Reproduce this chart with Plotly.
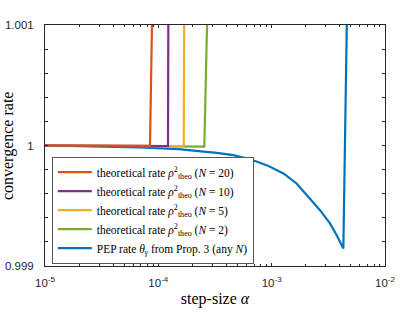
import plotly.graph_objects as go

# ---- data ----
alpha_pep = [1e-5, 3.05e-5, 6.89e-5, 1.5e-4, 2.33e-4, 3.27e-4, 4.59e-4, 6.44e-4,
             9.04e-4, 1.27e-3, 1.66e-3, 2.18e-3, 2.67e-3, 3.27e-3, 3.75e-3, 4.29e-3, 4.6e-3]
rate_pep = [1.0, 0.999994, 0.999984, 0.99997, 0.999953, 0.999939, 0.99992, 0.999886,
            0.999837, 0.999768, 0.999685, 0.99956, 0.999463, 0.999353, 0.999256, 0.999145, 1.001]

alpha_n20 = [1e-5, 8.44e-5, 8.79e-5]
rate_n20 = [1.0, 0.999998, 1.001]
alpha_n10 = [1e-5, 1.217e-4, 1.225e-4]
rate_n10 = [1.0, 0.999996, 1.001]
alpha_n5 = [1e-5, 1.675e-4, 1.69e-4]
rate_n5 = [1.0, 0.999994, 1.001]
alpha_n2 = [1e-5, 2.545e-4, 2.69e-4]
rate_n2 = [1.0, 0.99999, 1.001]

x_tickvals = [1e-5, 1e-4, 1e-3, 1e-2]
x_ticktext = ["10<sup>-5</sup>", "10<sup>-4</sup>", "10<sup>-3</sup>", "10<sup>-2</sup>"]
y_tickvals = [0.999, 1.0, 1.001]
y_ticktext = ["0.999", "1", "1.001"]
x_minor = [k * 10 ** e for e in (-5, -4, -3) for k in range(2, 10)]

theo = "theoretical rate <i>ρ</i><sup>2</sup><sub>theo</sub>"
series = [
    # (x, y, name, color, legendrank)
    (alpha_pep, rate_pep, "PEP rate <i>θ</i><sub><i>γ</i></sub> from Prop. 3 (any <i>N</i>)", "#0072BD", 5),
    (alpha_n2, rate_n2, theo + " (<i>N</i> = 2)", "#77AC30", 4),
    (alpha_n5, rate_n5, theo + " (<i>N</i> = 5)", "#EDB120", 3),
    (alpha_n10, rate_n10, theo + " (<i>N</i> = 10)", "#7E2F8E", 2),
    (alpha_n20, rate_n20, theo + " (<i>N</i> = 20)", "#D95319", 1),
]

SERIF = "Liberation Serif, Times New Roman, serif"
fig = go.Figure()
for xs, ys, name, color, rank in series:
    fig.add_trace(go.Scatter(x=xs, y=ys, mode="lines", name=name,
                             line=dict(color=color, width=2.2), legendrank=rank))

axis_color = "#262626"
fig.update_layout(
    width=415, height=312,
    margin=dict(l=45, r=30, t=25, b=46),
    paper_bgcolor="white", plot_bgcolor="white",
    font=dict(family="Liberation Sans, Arial, sans-serif", size=11, color=axis_color),
    showlegend=True,
    legend=dict(
        x=0.02, y=0.01, xanchor="left", yanchor="bottom",
        bgcolor="white", bordercolor="#555555", borderwidth=1,
        font=dict(family=SERIF, size=11.5, color="black"),
        itemwidth=34, tracegroupgap=0,
    ),
    annotations=[dict(
        text="convergence rate", textangle=-90, showarrow=False,
        xref="paper", yref="paper", x=-0.11, y=0.5, xanchor="center", yanchor="middle",
        font=dict(family=SERIF, size=16, color="black"),
    )],
)
fig.update_xaxes(
    type="log", range=[-5, -2], automargin=False,
    tickmode="array", tickvals=x_tickvals, ticktext=x_ticktext,
    ticks="inside", ticklen=3, tickcolor=axis_color,
    showline=True, linecolor=axis_color, linewidth=1, mirror="ticks",
    showgrid=False, zeroline=False,
    minor=dict(tickmode="array", tickvals=x_minor, ticks="inside", ticklen=2,
               tickcolor=axis_color, showgrid=False),
    tickfont=dict(size=11.5, color=axis_color),
    ticklabelstandoff=6,
    title=dict(text="step-size <i>α</i>", standoff=5,
               font=dict(family=SERIF, size=16, color="black")),
)
fig.update_yaxes(
    range=[0.999, 1.001], automargin=False,
    tickmode="array", tickvals=y_tickvals, ticktext=y_ticktext,
    ticks="inside", ticklen=3, tickcolor=axis_color,
    showline=True, linecolor=axis_color, linewidth=1, mirror="ticks",
    showgrid=False, zeroline=False,
    minor=dict(tickmode="linear", tick0=0.999, dtick=0.0002, ticks="inside", ticklen=3,
               tickcolor=axis_color, showgrid=False),
    tickfont=dict(size=11.5, color=axis_color),
    ticklabelstandoff=8,
)

fig.write_html("out.html", config={"displayModeBar": False},
               post_script="document.body.style.margin='0';")
